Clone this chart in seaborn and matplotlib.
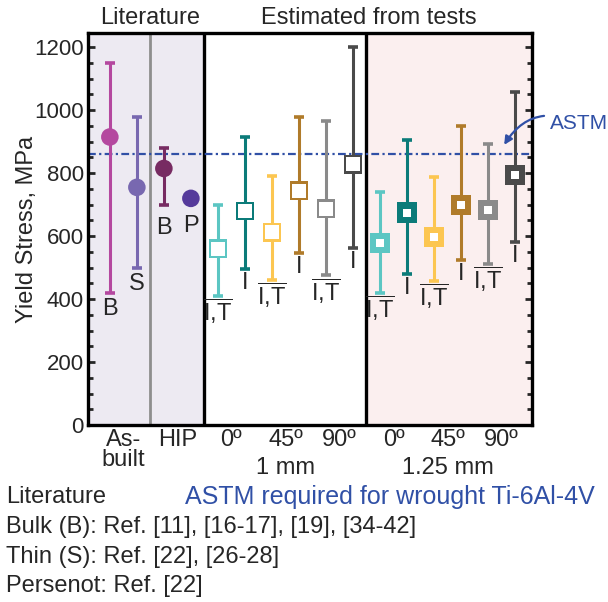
import matplotlib
matplotlib.use('Agg')
import matplotlib.pyplot as plt
import matplotlib.transforms as mtransforms
from matplotlib.ticker import MultipleLocator
import seaborn as sns
import pandas as pd

# literature values: as-built bulk, as-built thin, HIP bulk, Persenot
lit_mean = [915, 755, 815, 720]
lit_low = [420, 500, 700, 720]
lit_high = [1150, 980, 880, 720]
lit_tags = ['B', 'S', 'B', 'P']
lit_colors = ['#B4489F', '#7868B0', '#772B62', '#553A9B']

# estimated from tests, 1 mm (0, 0, 45, 45, 90, 90)
mm1_mean = [560, 680, 612, 745, 687, 828]
mm1_low = [410, 495, 460, 545, 475, 563]
mm1_high = [700, 915, 790, 980, 965, 1200]

# estimated from tests, 1.25 mm
mm125_mean = [577, 675, 598, 698, 683, 793]
mm125_low = [420, 480, 458, 525, 512, 580]
mm125_high = [740, 905, 788, 950, 892, 1058]

test_tags = ['I,T', 'I', 'I,T', 'I', 'I,T', 'I']
test_colors = ['#5CC6C3', '#0B7B79', '#FCC651', '#B07B2A', '#8A8A8A', '#4A4A4A']

astm_value = 860
astm_color = '#3050A6'

xtick_pos = [0.5, 2.5, 4.5, 6.5, 8.5, 10.5, 12.5, 14.5]
xtick_labels = ['As-\nbuilt', 'HIP', '0º', '45º', '90º', '0º', '45º', '90º']

# gap (points) between bar end and its tag
lit_tag_gap = [-4, -4, -9, -12]

sns.set_style('ticks')
plt.rcParams['font.family'] = ['Liberation Sans', 'DejaVu Sans']
plt.rcParams['mathtext.fontset'] = 'custom'
plt.rcParams['mathtext.rm'] = 'Liberation Sans'

FS = 17

fig = plt.figure(figsize=(6.08, 6.02), dpi=100)
ax = fig.add_axes([0.1447, 0.294, 0.7303, 0.651])

lit = pd.DataFrame({'x': range(0, 4), 'y': lit_mean, 'lo': lit_low, 'hi': lit_high,
                    'tag': lit_tags, 'c': lit_colors, 'gap': lit_tag_gap})
t1 = pd.DataFrame({'x': range(4, 10), 'y': mm1_mean, 'lo': mm1_low, 'hi': mm1_high,
                   'tag': test_tags, 'c': test_colors})
t2 = pd.DataFrame({'x': range(10, 16), 'y': mm125_mean, 'lo': mm125_low, 'hi': mm125_high,
                   'tag': test_tags, 'c': test_colors})
t1['gap'] = [-1 if t == 'I,T' else -2 for t in test_tags]
t2['gap'] = t1['gap']

# backgrounds and dividers
ax.axvspan(-0.81, 3.5, color='#EDEAF2', zorder=0, lw=0)
ax.axvspan(9.5, 15.63, color='#FBEFEF', zorder=0, lw=0)
ax.axvline(1.5, color='#8E8E8E', lw=2, zorder=1)
ax.axvline(3.5, color='black', lw=2.4, zorder=1)
ax.axvline(9.5, color='black', lw=2.4, zorder=1)

ax.axhline(astm_value, color=astm_color, lw=1.6, dashes=(3.5, 1.5, 1, 1.5), zorder=1.5)

# error bars
for df in [lit, t1, t2]:
    for _, r in df.iterrows():
        if r['hi'] > r['lo']:
            ax.errorbar(r['x'], r['y'], yerr=[[r['y'] - r['lo']], [r['hi'] - r['y']]],
                        fmt='none', ecolor=r['c'], elinewidth=2.2, capsize=3.8, capthick=2.6, zorder=2)

# markers
sns.scatterplot(data=lit, x='x', y='y', hue='c', palette=lit_colors, marker='o', s=160,
                linewidth=0, legend=False, ax=ax, zorder=3)
sns.scatterplot(data=t1, x='x', y='y', hue='c', palette=test_colors, marker='s', s=13.5 ** 2,
                linewidth=0, legend=False, ax=ax, zorder=3)
sns.scatterplot(data=t1, x='x', y='y', color='white', marker='s', s=10.5 ** 2,
                linewidth=0, legend=False, ax=ax, zorder=4)
sns.scatterplot(data=t2, x='x', y='y', hue='c', palette=test_colors, marker='s', s=14.5 ** 2,
                linewidth=0, legend=False, ax=ax, zorder=3)
sns.scatterplot(data=t2, x='x', y='y', color='white', marker='s', s=6 ** 2,
                linewidth=0, legend=False, ax=ax, zorder=4)

# tags under the bars
for df in [lit, t1, t2]:
    for _, r in df.iterrows():
        txt = r'$\overline{\mathrm{I{,}T}}$' if r['tag'] == 'I,T' else r['tag']
        ax.annotate(txt, xy=(r['x'], r['lo']), xytext=(0, r['gap']), textcoords='offset points',
                    ha='center', va='top', fontsize=FS, zorder=5)

ax.set_xlim(-0.81, 15.63)
ax.set_ylim(0, 1245)
ax.yaxis.set_major_locator(MultipleLocator(200))
ax.yaxis.set_minor_locator(MultipleLocator(50))
ax.tick_params(axis='y', which='both', direction='in', left=True, right=True,
               labelsize=16, width=2)
ax.tick_params(axis='y', which='major', length=5, pad=3)
ax.tick_params(axis='y', which='minor', length=3.5)
ax.set_xticks(xtick_pos)
ax.set_xticklabels(xtick_labels, fontsize=FS, linespacing=0.9)
ax.tick_params(axis='x', length=0, pad=3)
for s in ax.spines.values():
    s.set_linewidth(2.4)
    s.set_color('black')
    s.set_visible(True)
ax.set_xlabel('')
ax.set_ylabel('Yield Stress, MPa', fontsize=FS, labelpad=-3)

trans = mtransforms.blended_transform_factory(ax.transData, ax.transAxes)
ax.text(6.5, -0.11, '1 mm', transform=trans, ha='center', va='center', fontsize=FS)
ax.text(12.5, -0.11, '1.25 mm', transform=trans, ha='center', va='center', fontsize=FS)
ax.text(1.5, 1.038, 'Literature', transform=trans, ha='center', va='center', fontsize=FS)
ax.text(9.6, 1.038, 'Estimated from tests', transform=trans, ha='center', va='center', fontsize=FS)

ax.annotate('ASTM', xy=(14.6, 890), xytext=(16.3, 958), textcoords='data',
            ha='left', va='center', fontsize=15, color=astm_color, annotation_clip=False,
            arrowprops=dict(arrowstyle='-|>', color=astm_color, lw=1.6,
                            connectionstyle='arc3,rad=0.45', shrinkA=2, shrinkB=0,
                            mutation_scale=12))

BS = 17
fig.text(0.01, 0.174, 'Literature', fontsize=BS, va='center')
fig.text(0.304, 0.174, 'ASTM required for wrought Ti-6Al-4V', fontsize=18, va='center',
         color=astm_color)
fig.text(0.01, 0.125, 'Bulk (B): Ref. [11], [16-17], [19], [34-42]', fontsize=BS, va='center')
fig.text(0.01, 0.075, 'Thin (S): Ref. [22], [26-28]', fontsize=BS, va='center')
fig.text(0.01, 0.027, 'Persenot: Ref. [22]', fontsize=BS, va='center')

fig.savefig('out.png', dpi=100)
